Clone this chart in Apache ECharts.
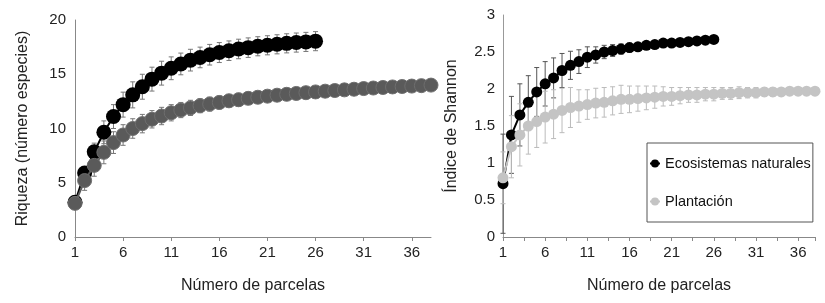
<!DOCTYPE html>
<html>
<head>
<meta charset="utf-8">
<script src="https://cdn.jsdelivr.net/npm/echarts@6/dist/echarts.min.js"></script>
<style>
  html, body { margin: 0; padding: 0; background: #fff; }
  #main { width: 825px; height: 303px; }
</style>
</head>
<body>
<div id="main"></div>
<script>
// number of plots (x)
const parcelas = [1, 2, 3, 4, 5, 6, 7, 8, 9, 10, 11, 12, 13, 14, 15, 16, 17, 18, 19,
  20, 21, 22, 23, 24, 25, 26, 27, 28, 29, 30, 31, 32, 33, 34, 35, 36, 37, 38];
const xTickLabels = [1, 6, 11, 16, 21, 26, 31, 36];

// richness, natural ecosystems
const riquezaNat = [3.2, 5.9, 7.85, 9.65, 11.1, 12.2, 13.1, 13.85, 14.55, 15.1, 15.55, 15.95,
  16.3, 16.55, 16.8, 17.0, 17.17, 17.33, 17.45, 17.58, 17.67, 17.76, 17.85, 17.92, 17.98, 18.05];
const riquezaNatErr = [0.3, 0.6, 0.8, 1.05, 1.1, 1.15, 1.2, 1.15, 1.1, 1.1, 1.05, 1.0,
  1.0, 0.95, 0.95, 0.92, 0.9, 0.9, 0.9, 0.88, 0.88, 0.88, 0.88, 0.88, 0.88, 0.88];

// richness, plantation
const riquezaPlan = [3.1, 5.2, 6.6, 7.8, 8.7, 9.4, 10.0, 10.45, 10.85, 11.15, 11.45, 11.7,
  11.9, 12.1, 12.25, 12.4, 12.55, 12.65, 12.78, 12.88, 12.98, 13.07, 13.15, 13.23, 13.3,
  13.37, 13.44, 13.5, 13.56, 13.62, 13.68, 13.73, 13.78, 13.83, 13.87, 13.91, 13.95, 14.0];
const riquezaPlanErr = [0.3, 0.9, 1.0, 1.05, 1.0, 0.95, 0.9, 0.85, 0.8, 0.8, 0.75, 0.7,
  0.7, 0.65, 0.65, 0.6, 0.6, 0.6, 0.55, 0.55, 0.5, 0.5, 0.45, 0.45, 0.4, 0.4, 0.4, 0.35,
  0.35, 0.35, 0.3, 0.3, 0.3, 0.3, 0.3, 0.3, 0.3, 0.3];

// Shannon index, natural ecosystems
const shannonNat = [0.72, 1.38, 1.65, 1.82, 1.96, 2.07, 2.15, 2.25, 2.32, 2.37, 2.43, 2.46,
  2.5, 2.52, 2.54, 2.56, 2.57, 2.59, 2.6, 2.62, 2.62, 2.63, 2.64, 2.65, 2.66, 2.67];
const shannonNatErr = [0.67, 0.52, 0.42, 0.36, 0.33, 0.3, 0.27, 0.23, 0.19, 0.16, 0.14, 0.11,
  0.09, 0.08, 0.07, 0.06, 0.05, 0.05, 0.05, 0.04, 0.04, 0.04, 0.04, 0.04, 0.04, 0.04];

// Shannon index, plantation
const shannonPlan = [0.8, 1.22, 1.38, 1.5, 1.56, 1.62, 1.66, 1.71, 1.75, 1.77, 1.79, 1.81,
  1.82, 1.84, 1.86, 1.86, 1.87, 1.88, 1.89, 1.9, 1.9, 1.91, 1.92, 1.92, 1.93, 1.93, 1.94,
  1.94, 1.95, 1.95, 1.95, 1.96, 1.96, 1.96, 1.97, 1.97, 1.97, 1.97];
const shannonPlanErr = [0.35, 0.42, 0.42, 0.38, 0.35, 0.35, 0.33, 0.3, 0.27, 0.22, 0.2, 0.2,
  0.2, 0.19, 0.19, 0.18, 0.17, 0.16, 0.15, 0.13, 0.12, 0.11, 0.1, 0.1, 0.09, 0.09, 0.08,
  0.08, 0.08, 0.07, 0.07, 0.06, 0.06, 0.05, 0.05, 0.05, 0.05, 0.05];

const FONT = 'Liberation Sans, Arial, sans-serif';

function points(vals) {
  return vals.map((v, i) => [parcelas[i], v]);
}
function bars(vals, errs) {
  return vals.map((v, i) => [parcelas[i], v - errs[i], v + errs[i]]);
}

// draws a vertical error bar with small caps
function errorBarItem(color) {
  return function (params, api) {
    const x = api.value(0);
    const lo = api.coord([x, api.value(1)]);
    const hi = api.coord([x, api.value(2)]);
    const cap = 2.5;
    const style = { stroke: color, lineWidth: 1 };
    return {
      type: 'group',
      children: [
        { type: 'line', shape: { x1: lo[0], y1: lo[1], x2: hi[0], y2: hi[1] }, style: style },
        { type: 'line', shape: { x1: lo[0] - cap, y1: lo[1], x2: lo[0] + cap, y2: lo[1] }, style: style },
        { type: 'line', shape: { x1: hi[0] - cap, y1: hi[1], x2: hi[0] + cap, y2: hi[1] }, style: style }
      ]
    };
  };
}

function xAxis(gridIndex, minor) {
  return {
    type: 'value', gridIndex: gridIndex, min: 1, max: 38, interval: 5,
    name: 'Número de parcelas', nameLocation: 'middle', nameGap: 41,
    nameTextStyle: { fontFamily: FONT, fontSize: 16, color: '#222' },
    axisLine: { lineStyle: { color: '#888', width: 1 } },
    axisTick: { show: true, length: 4, lineStyle: { color: '#888' } },
    minorTick: { show: minor, splitNumber: 2, length: 4, lineStyle: { color: '#888' } },
    splitLine: { show: false },
    axisLabel: {
      fontFamily: FONT, fontSize: 15, color: '#222', margin: 8, showMaxLabel: false,
      formatter: v => (xTickLabels.indexOf(v) >= 0 ? String(v) : '')
    }
  };
}

const chart = echarts.init(document.getElementById('main'));
chart.setOption({
  animation: false,
  backgroundColor: '#fff',
  grid: [
    { left: 75, right: 394, top: 20, bottom: 66 },
    { left: 503, right: 10, top: 15, bottom: 66 }
  ],
  xAxis: [xAxis(0, false), xAxis(1, true)],
  yAxis: [
    {
      type: 'value', gridIndex: 0, min: 0, max: 20, interval: 5,
      name: 'Riqueza (número especies)', nameLocation: 'middle', nameGap: 44,
      nameTextStyle: { fontFamily: FONT, fontSize: 16, color: '#222' },
      axisLine: { show: true, lineStyle: { color: '#888' } },
      axisTick: { show: false },
      splitLine: { show: false },
      axisLabel: { fontFamily: FONT, fontSize: 15, color: '#222', margin: 9 }
    },
    {
      type: 'value', gridIndex: 1, min: 0, max: 3, interval: 0.5,
      name: 'Índice de Shannon', nameLocation: 'middle', nameGap: 43,
      nameTextStyle: { fontFamily: FONT, fontSize: 16, color: '#222' },
      axisLine: { show: true, lineStyle: { color: '#999' } },
      axisTick: { show: false },
      splitLine: { show: false },
      axisLabel: { fontFamily: FONT, fontSize: 15, color: '#222', margin: 8 }
    }
  ],
  legend: {
    data: ['Ecosistemas naturales', 'Plantación'],
    orient: 'vertical', left: 647, top: 143,
    padding: [13, 2, 13, 2], itemGap: 23, itemWidth: 10, itemHeight: 10,
    borderColor: '#555', borderWidth: 1, backgroundColor: '#fff',
    textStyle: { fontFamily: FONT, fontSize: 14.5, color: '#111' }
  },
  series: [
    {
      type: 'custom', xAxisIndex: 0, yAxisIndex: 0, z: 1,
      renderItem: errorBarItem('#777'), encode: { x: 0, y: [1, 2] },
      data: bars(riquezaNat, riquezaNatErr)
    },
    {
      type: 'custom', xAxisIndex: 0, yAxisIndex: 0, z: 1,
      renderItem: errorBarItem('#777'), encode: { x: 0, y: [1, 2] },
      data: bars(riquezaPlan, riquezaPlanErr)
    },
    {
      name: 'Riqueza natural', type: 'line', xAxisIndex: 0, yAxisIndex: 0, z: 3,
      symbol: 'circle', symbolSize: 15, color: '#000',
      lineStyle: { color: '#000', width: 2 },
      data: points(riquezaNat)
    },
    {
      name: 'Riqueza plantación', type: 'line', xAxisIndex: 0, yAxisIndex: 0, z: 4,
      symbol: 'circle', symbolSize: 14, color: '#5a5a5a',
      itemStyle: { color: '#5a5a5a', borderColor: '#6e6e6e', borderWidth: 1 },
      lineStyle: { color: '#5a5a5a', width: 2 },
      data: points(riquezaPlan)
    },
    {
      type: 'custom', xAxisIndex: 1, yAxisIndex: 1, z: 1,
      renderItem: errorBarItem('#555'), encode: { x: 0, y: [1, 2] },
      data: bars(shannonNat, shannonNatErr)
    },
    {
      type: 'custom', xAxisIndex: 1, yAxisIndex: 1, z: 1,
      renderItem: errorBarItem('#bbb'), encode: { x: 0, y: [1, 2] },
      data: bars(shannonPlan, shannonPlanErr)
    },
    {
      name: 'Ecosistemas naturales', type: 'line', xAxisIndex: 1, yAxisIndex: 1, z: 3,
      symbol: 'circle', symbolSize: 11, color: '#000',
      lineStyle: { color: '#000', width: 2 },
      data: points(shannonNat)
    },
    {
      name: 'Plantación', type: 'line', xAxisIndex: 1, yAxisIndex: 1, z: 4,
      symbol: 'circle', symbolSize: 11, color: '#c4c4c4',
      lineStyle: { color: '#c4c4c4', width: 2 },
      data: points(shannonPlan)
    }
  ]
});
</script>
</body>
</html>
